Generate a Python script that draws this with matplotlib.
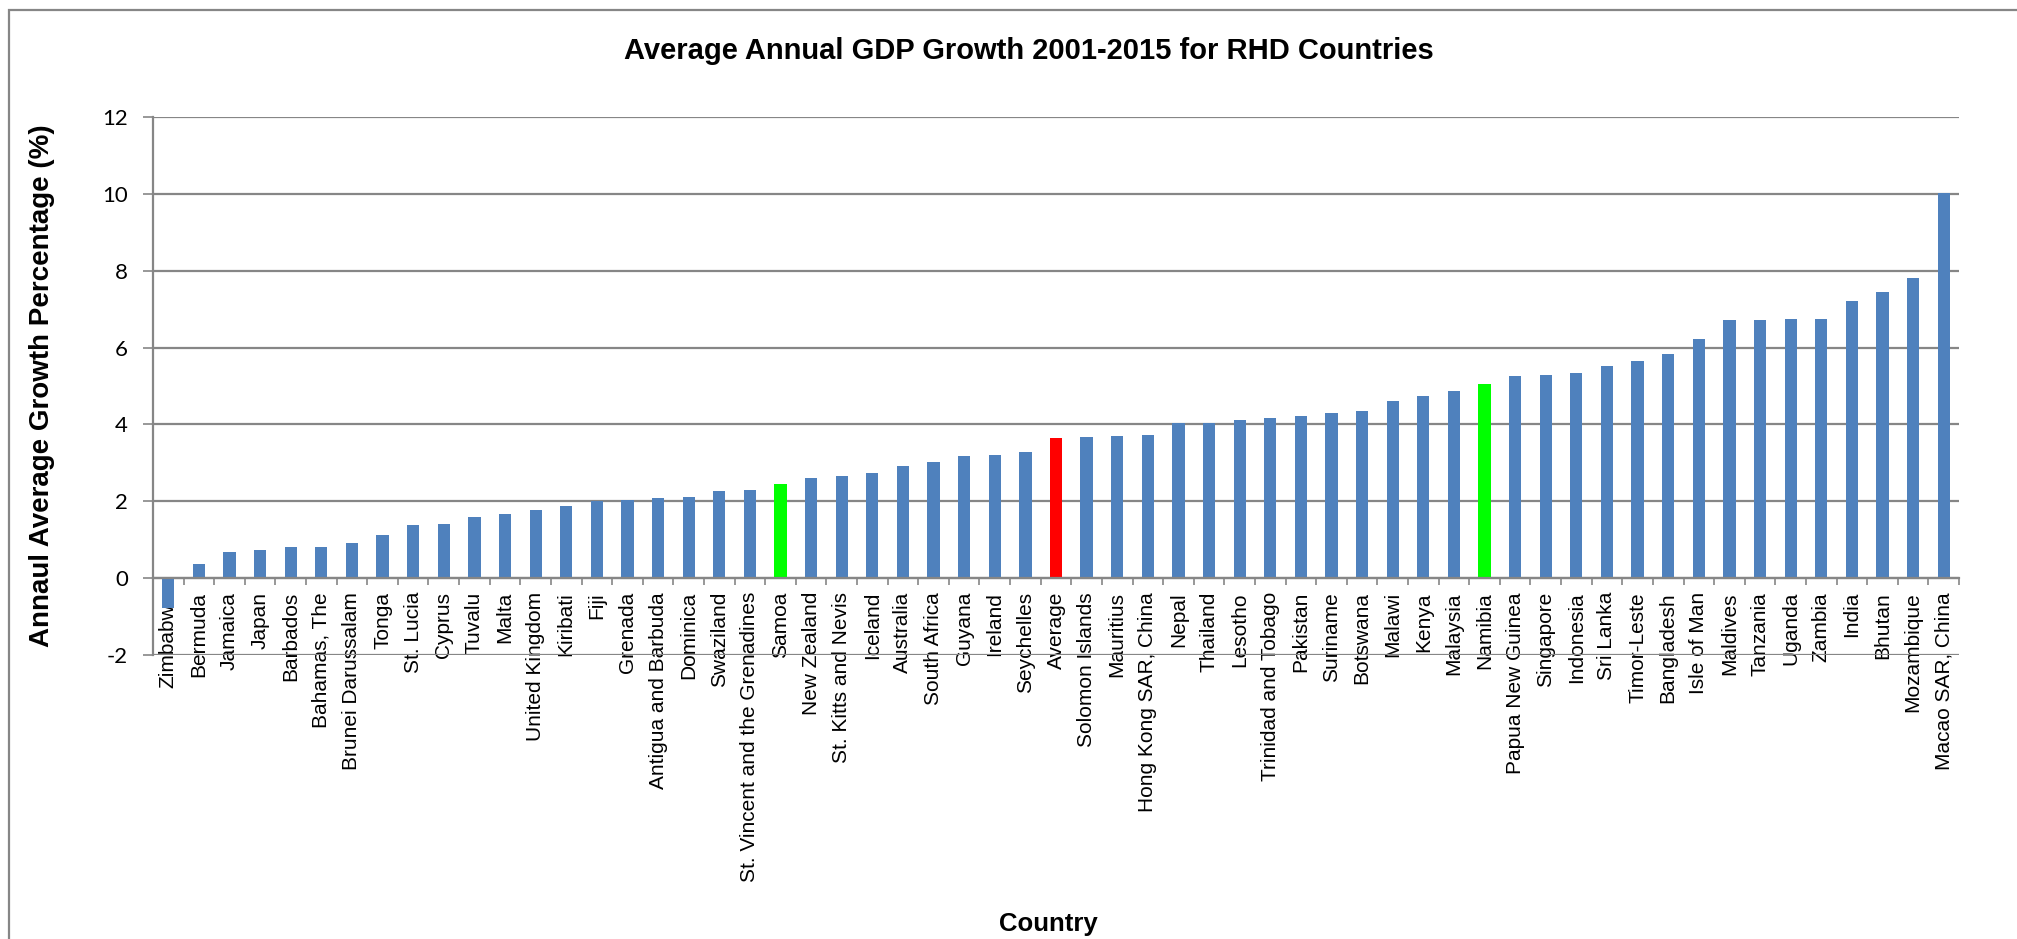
import numpy as np
import matplotlib
matplotlib.use("Agg")
import matplotlib.pyplot as plt
from matplotlib.patches import Rectangle

countries = [
    "Zimbabwe", "Bermuda", "Jamaica", "Japan", "Barbados", "Bahamas, The",
    "Brunei Darussalam", "Tonga", "St. Lucia", "Cyprus", "Tuvalu", "Malta",
    "United Kingdom", "Kiribati", "Fiji", "Grenada", "Antigua and Barbuda",
    "Dominica", "Swaziland", "St. Vincent and the Grenadines", "Samoa",
    "New Zealand", "St. Kitts and Nevis", "Iceland", "Australia",
    "South Africa", "Guyana", "Ireland", "Seychelles", "Average",
    "Solomon Islands", "Mauritius", "Hong Kong SAR, China", "Nepal",
    "Thailand", "Lesotho", "Trinidad and Tobago", "Pakistan", "Suriname",
    "Botswana", "Malawi", "Kenya", "Malaysia", "Namibia", "Papua New Guinea",
    "Singapore", "Indonesia", "Sri Lanka", "Timor-Leste", "Bangladesh",
    "Isle of Man", "Maldives", "Tanzania", "Uganda", "Zambia", "India",
    "Bhutan", "Mozambique", "Macao SAR, China",
]
growth = [
    -0.78, 0.38, 0.67, 0.74, 0.81, 0.82,
    0.91, 1.11, 1.37, 1.42, 1.60, 1.68,
    1.77, 1.89, 2.02, 2.03, 2.08,
    2.10, 2.27, 2.29, 2.44,
    2.60, 2.66, 2.73, 2.91,
    3.02, 3.18, 3.20, 3.28, 3.64,
    3.66, 3.69, 3.72, 4.03,
    4.03, 4.12, 4.17, 4.21, 4.30,
    4.36, 4.60, 4.73, 4.86, 5.06, 5.26,
    5.28, 5.33, 5.53, 5.66, 5.84,
    6.23, 6.71, 6.73, 6.75, 6.75, 7.21,
    7.45, 7.82, 10.01,
]
y_ticks = [-2, 0, 2, 4, 6, 8, 10, 12]

# highlight colours
highlight = {"Average": "#FF0000", "Samoa": "#00FF00", "Namibia": "#00FF00"}
colors = [highlight.get(c, "#4F81BD") for c in countries]

W, H = 2017, 939
fig = plt.figure(figsize=(W / 100, H / 100), dpi=100)
ax = fig.add_axes([153 / W, 1 - 655 / H, 1806 / W, (655 - 117) / H])

x = np.arange(len(countries))
ax.bar(x, growth, width=0.4, color=colors, zorder=3)

grid_c = "#868686"
ax.set_xlim(-0.5, len(countries) - 0.5)
ax.set_ylim(-2, 12)
ax.set_yticks(y_ticks)
ax.set_yticklabels([str(v) for v in y_ticks], fontfamily="Lato", fontsize=16)
ax.yaxis.grid(True, color=grid_c, linewidth=1.6, zorder=0)
ax.set_axisbelow(True)
ax.tick_params(axis="y", length=7, width=1.2, color=grid_c, pad=11)

# category axis crossing at zero, ticks between categories
ax.spines["bottom"].set_position(("data", 0))
for s in ["top", "right"]:
    ax.spines[s].set_visible(False)
ax.spines["left"].set_color(grid_c)
ax.spines["left"].set_linewidth(1.6)
ax.spines["bottom"].set_color(grid_c)
ax.spines["bottom"].set_linewidth(1.6)
ax.spines["bottom"].set_zorder(4)

ax.set_xticks(np.arange(-0.5, len(countries), 1))
ax.set_xticklabels([])
ax.tick_params(axis="x", which="major", length=5, width=1.2, color=grid_c)
ax.set_xticks(x, minor=True)
ax.set_xticklabels(countries, minor=True, rotation=90, fontfamily="Liberation Sans",
                   fontsize=15, va="top", ha="center")
ax.tick_params(axis="x", which="minor", length=0, pad=10)

fig.text(1029 / W, 1 - 51 / H, "Average Annual GDP Growth 2001-2015 for RHD Countries",
         ha="center", va="center", fontsize=21, fontweight="bold",
         fontfamily="Liberation Sans")
fig.text(1048 / W, 1 - 924 / H, "Country", ha="center", va="center",
         fontsize=18.5, fontweight="bold", fontfamily="Liberation Sans")
fig.text(42 / W, 1 - 386 / H, "Annaul Average Growth Percentage (%)", ha="center",
         va="center", rotation=90, fontsize=20, fontweight="bold",
         fontfamily="Liberation Sans")

# outer chart border
fig.patches.append(Rectangle((9 / W, -0.1), 1.2, 1.1 - 10 / H, transform=fig.transFigure,
                             fill=False, edgecolor=grid_c, linewidth=1.6))

fig.savefig("out.png", dpi=100, facecolor="white")
